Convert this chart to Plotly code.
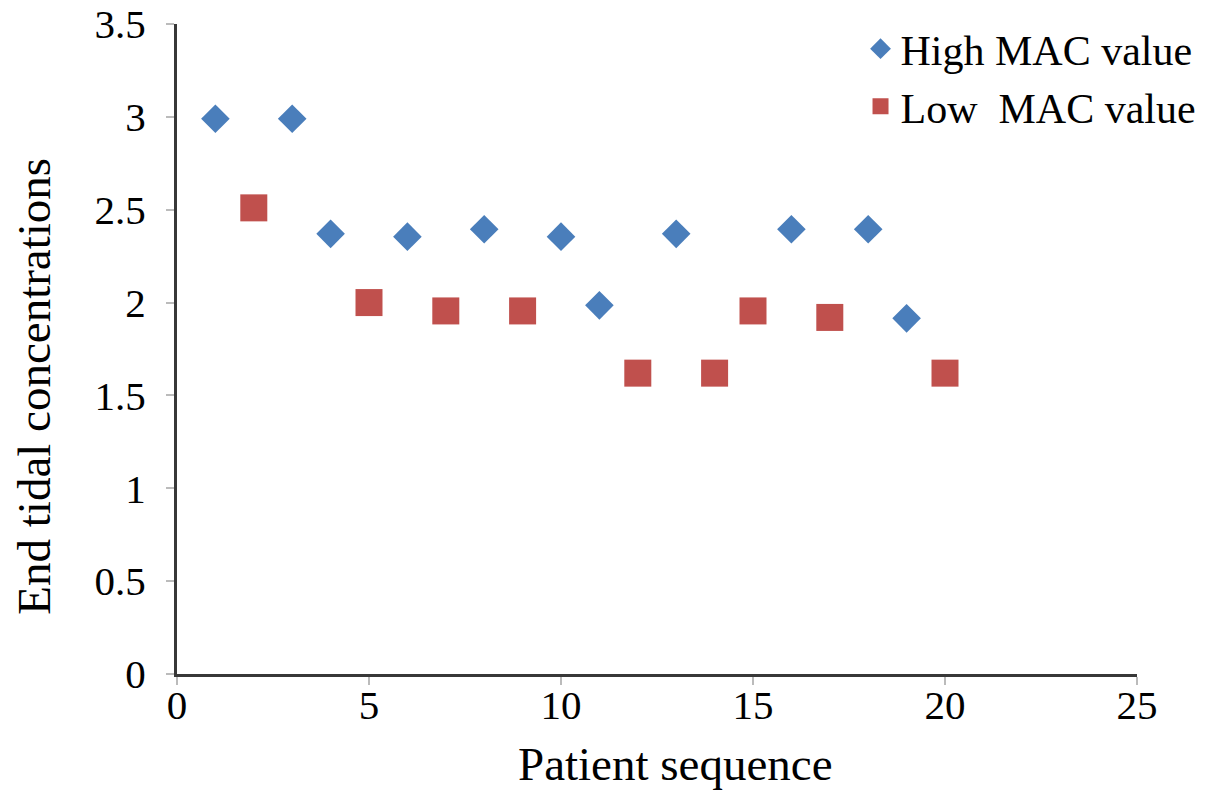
import plotly.graph_objects as go

high_x = [1, 3, 4, 6, 8, 10, 11, 13, 16, 18, 19]
high_y = [2.99, 2.99, 2.37, 2.355, 2.395, 2.355, 1.985, 2.37, 2.395, 2.395, 1.915]
low_x = [2, 5, 7, 9, 12, 14, 15, 17, 20]
low_y = [2.51, 2.0, 1.955, 1.955, 1.62, 1.62, 1.955, 1.92, 1.62]

x_ticks = [0, 5, 10, 15, 20, 25]
y_ticks = [0, 0.5, 1, 1.5, 2, 2.5, 3, 3.5]
y_labels = ["0", "0.5", "1", "1.5", "2", "2.5", "3", "3.5"]

FONT = "Liberation Serif, Times New Roman, serif"

fig = go.Figure()
fig.add_trace(go.Scatter(
    x=high_x, y=high_y, mode="markers", name="High MAC value",
    marker=dict(symbol="diamond", size=22, color="#4a7ebb", line=dict(width=0)),
))
fig.add_trace(go.Scatter(
    x=low_x, y=low_y, mode="markers", name="Low  MAC value",
    marker=dict(symbol="square", size=27, color="#c0504d", line=dict(width=0)),
))

fig.update_layout(
    width=1205, height=803,
    margin=dict(l=169, r=76, t=16, b=137, autoexpand=False),
    paper_bgcolor="white", plot_bgcolor="white",
    font=dict(family=FONT, size=41, color="black"),
    showlegend=True,
    legend=dict(
        x=0.712, y=1.014, xanchor="left", yanchor="top",
        bgcolor="rgba(0,0,0,0)", font=dict(family=FONT, size=42),
        itemsizing="trace", tracegroupgap=0,
    ),
    xaxis=dict(
        range=[0, 25], tickvals=x_ticks, ticktext=[str(v) for v in x_ticks],
        showgrid=False, zeroline=False, showline=True, linecolor="#383838", linewidth=3,
        ticks="outside", ticklen=8, tickwidth=1.5, tickcolor="#bbbbbb",
        tickfont=dict(family=FONT, size=41), automargin=False, ticklabelstandoff=-15,
        ticklabeloverflow="allow",
    ),
    yaxis=dict(
        range=[0, 3.5], tickvals=y_ticks, ticktext=y_labels,
        showgrid=False, zeroline=False, showline=True, linecolor="#383838", linewidth=3,
        ticks="outside", ticklen=8, tickwidth=1.5, tickcolor="#bbbbbb",
        tickfont=dict(family=FONT, size=41), ticklabelstandoff=12, automargin=False,
        ticklabeloverflow="allow",
    ),
    annotations=[
        dict(text="Patient sequence", xref="paper", yref="paper", x=0.519, y=-0.139,
             xanchor="center", yanchor="middle", showarrow=False,
             font=dict(family=FONT, size=47, color="black")),
        dict(text="End tidal concentrations", xref="paper", yref="paper", x=-0.149, y=0.4435,
             xanchor="center", yanchor="middle", showarrow=False, textangle=-90,
             font=dict(family=FONT, size=47, color="black")),
    ],
)

fig.write_html("out.html")
